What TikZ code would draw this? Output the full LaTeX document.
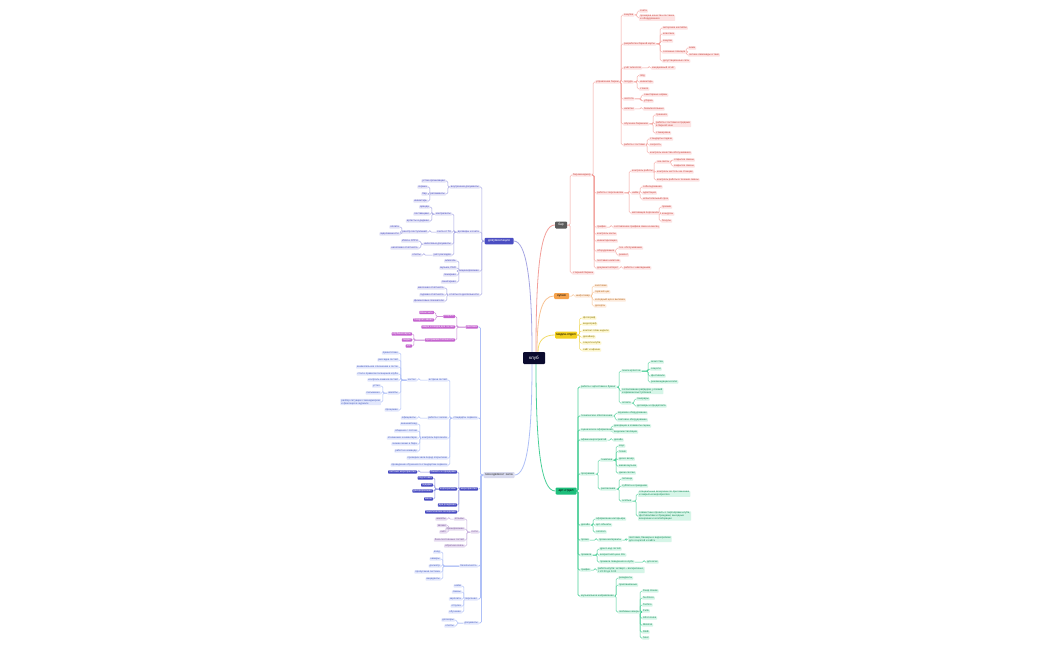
\documentclass[tikz,border=0pt]{standalone}
\usepackage{fontspec}
\setmainfont{Liberation Sans}
\usetikzlibrary{backgrounds}

\definecolor{rootfill}{HTML}{0B0B2E}
\definecolor{barmainfill}{HTML}{5B5B5B}
\definecolor{barfill}{HTML}{FDE3E3}
\definecolor{bartext}{HTML}{C9453E}
\definecolor{barln}{HTML}{F3A09B}
\definecolor{kitmainfill}{HTML}{F5A24B}
\definecolor{kitfill}{HTML}{FDEBDC}
\definecolor{kittext}{HTML}{B86A1F}
\definecolor{kitln}{HTML}{F8C292}
\definecolor{medmainfill}{HTML}{F2CF1D}
\definecolor{medfill}{HTML}{FDF6CF}
\definecolor{medtext}{HTML}{8A7500}
\definecolor{medln}{HTML}{F2DC6A}
\definecolor{artmainfill}{HTML}{1DBE7B}
\definecolor{artfill}{HTML}{D5F5E7}
\definecolor{arttext}{HTML}{138A57}
\definecolor{artln}{HTML}{49CF97}
\definecolor{docmainfill}{HTML}{4A4DC2}
\definecolor{docfill}{HTML}{E3E3F6}
\definecolor{doctext}{HTML}{4A4DC2}
\definecolor{docln}{HTML}{A6A6E3}
\definecolor{hallmainfill}{HTML}{D8DAEE}
\definecolor{hallfill}{HTML}{E2E7FC}
\definecolor{halltext}{HTML}{4A5FC0}
\definecolor{hallln}{HTML}{AFC0F7}
\definecolor{promofill}{HTML}{C565CF}
\definecolor{promoln}{HTML}{C98AD6}
\definecolor{eventln}{HTML}{8F92E0}
\definecolor{guestfill}{HTML}{E6DBF0}
\definecolor{guesttext}{HTML}{7A5A9A}
\definecolor{guestln}{HTML}{C8B0DD}

\newcommand{\leaffont}{\fontsize{2.6}{3.1}\selectfont}
\newcommand{\hubfont}{\fontsize{3.3}{4}\selectfont}

\begin{document}
\begin{tikzpicture}[x=1pt, y=-1pt,
    leaf/.style={rounded corners=0.7pt, inner xsep=1pt, inner ysep=0.4pt,
        minimum height=3.4pt, font=\leaffont, align=left},
    hub/.style={rounded corners=1pt, inner sep=0pt, font=\hubfont},
    barleaf/.style={leaf, anchor=west, fill=barfill, text=bartext},
    kitleaf/.style={leaf, anchor=west, fill=kitfill, text=kittext},
    medleaf/.style={leaf, anchor=west, fill=medfill, text=medtext},
    artleaf/.style={leaf, anchor=west, fill=artfill, text=arttext},
    docleaf/.style={leaf, anchor=east, fill=docfill, text=doctext},
    hallleaf/.style={leaf, anchor=east, fill=hallfill, text=halltext},
    promoleaf/.style={leaf, anchor=east, fill=promofill, text=white},
    eventleaf/.style={leaf, anchor=east, fill=docmainfill, text=white},
    guestleaf/.style={leaf, anchor=east, fill=guestfill, text=guesttext},
    link/.style={line width=0.5pt, rounded corners=1.4pt},
    trunk/.style={line width=0.8pt}]

\useasboundingbox (0,0) rectangle (1050,650);

% Centre
\node[hub, fill=rootfill, text=white, minimum width=22pt, minimum height=12pt,
    font=\fontsize{4.6}{5}\selectfont] (root) at (534,358) {клуб};

% Main branches
\node[hub, fill=barmainfill, text=white, minimum width=12pt, minimum height=7pt] (bar) at (561,225) {бар};
\node[hub, fill=kitmainfill, text=black, minimum width=15pt, minimum height=6pt] (kit) at (561.5,296) {кухня};
\node[hub, fill=medmainfill, text=black, minimum width=22pt, minimum height=7pt] (med) at (566,335) {медиа-отдел};
\node[hub, fill=artmainfill, text=black, minimum width=21pt, minimum height=7pt] (art) at (566,491) {арт-отдел};
\node[hub, fill=docmainfill, text=white, minimum width=29pt, minimum height=6.5pt] (doc) at (499,241) {документация};
\node[hub, fill=hallmainfill, text=black!75, minimum width=31pt, minimum height=6pt] (hall) at (499,475) {менеджмент зала};

% Bar
\node[barleaf] (b1) at (572,175) {бар-менеджер};
\node[barleaf] (b2) at (572,273) {старший бармен};
\node[barleaf] (b11) at (595,82) {управление баром};
\node[barleaf] (b12) at (596,193) {работа с персоналом};
\node[barleaf] (b13) at (596,227) {график};
\node[barleaf] (b14) at (596,234) {контроль кассы};
\node[barleaf] (b15) at (596,241) {инвентаризация};
\node[barleaf] (b16) at (596,251) {оборудование};
\node[barleaf] (b17) at (596,261) {поставки напитков};
\node[barleaf] (b18) at (596,268) {документооборот};
\node[barleaf] (b111) at (623,15) {закупки};
\node[barleaf] (b112) at (623,44) {разработка барной карты};
\node[barleaf] (b113) at (623,68) {учёт алкоголя};
\node[barleaf] (b114) at (623,82) {посуда};
\node[barleaf] (b115) at (623,99) {чистота};
\node[barleaf] (b116) at (623,109) {напитки};
\node[barleaf] (b117) at (623,124) {обучение барменов};
\node[barleaf] (b118) at (623,145) {работа с гостями};
\node[barleaf] (b1111) at (639,11) {счета};
\node[barleaf] (b1112) at (639,18) {проверка качества поставок\\и оборудования};
\node[barleaf] (b1121) at (662,28) {авторские коктейли};
\node[barleaf] (b1122) at (662,34) {классика};
\node[barleaf] (b1123) at (662,41) {закуски};
\node[barleaf] (b1124) at (662,52) {сезонные позиции};
\node[barleaf] (b1125) at (662,61) {дегустационные сеты};
\node[barleaf] (b11241) at (688,48) {зима};
\node[barleaf] (b11242) at (688,55) {летние лимонады и тики};
\node[barleaf] (b1131) at (651,68) {ежедневный отчёт};
\node[barleaf] (b1141) at (639,75.5) {лёд};
\node[barleaf] (b1142) at (639,82) {инвентарь};
\node[barleaf] (b1143) at (639,89) {стекло};
\node[barleaf] (b1151) at (643,95) {санитарные нормы};
\node[barleaf] (b1152) at (643,101) {уборка};
\node[barleaf] (b1161) at (643,109) {безалкогольные};
\node[barleaf] (b1171) at (655,115) {тренинги};
\node[barleaf] (b1172) at (655,124) {работа с гостями и продажи\\в барной зоне};
\node[barleaf] (b1173) at (655,133) {стажировка};
\node[barleaf] (b1181) at (649,139) {стандарты подачи};
\node[barleaf] (b1182) at (649,145) {скорость};
\node[barleaf] (b1183) at (649,153) {контроль качества обслуживания};
\node[barleaf] (b121) at (631,171) {контроль работы};
\node[barleaf] (b122) at (631,193) {найм};
\node[barleaf] (b123) at (631,213) {мотивация персонала};
\node[barleaf] (b1211) at (656,162) {чек-листы};
\node[barleaf] (b1212) at (656,172) {контроль чистоты на станции};
\node[barleaf] (b1213) at (656,180) {контроль работы в течение смены};
\node[barleaf] (b12111) at (673,160) {открытие смены};
\node[barleaf] (b12112) at (673,166) {закрытие смены};
\node[barleaf] (b1221) at (642,187) {собеседования};
\node[barleaf] (b1222) at (642,193) {адаптация};
\node[barleaf] (b1223) at (642,199) {испытательный срок};
\node[barleaf] (b1231) at (661,207) {премии};
\node[barleaf] (b1232) at (661,214) {конкурсы};
\node[barleaf] (b1233) at (661,221) {бонусы};
\node[barleaf] (b131) at (613,227) {составление графика смен на месяц};
\node[barleaf] (b161) at (618,248) {тех. обслуживание};
\node[barleaf] (b162) at (618,255) {ремонт};
\node[barleaf] (b181) at (623,268) {работа с накладными};

% Kitchen
\node[kitleaf] (k1) at (575,296) {шеф-повар};
\node[kitleaf] (k11) at (594,286) {заготовки};
\node[kitleaf] (k12) at (594,292) {горячий цех};
\node[kitleaf] (k13) at (594,300) {холодный цех и выпечка};
\node[kitleaf] (k14) at (594,306) {десерты};

% Media
\node[medleaf] (y1) at (582,318) {фотограф};
\node[medleaf] (y2) at (582,324) {видеограф};
\node[medleaf] (y3) at (582,331) {контент-план недели};
\node[medleaf] (y4) at (582,337) {дизайнер};
\node[medleaf] (y5) at (582,343) {соцсети клуба};
\node[medleaf] (y6) at (582,350) {сайт и афиши};

% Art
\node[artleaf] (g1) at (580,387) {работа с артистами и букинг};
\node[artleaf] (g2) at (580,416) {техническое обеспечение};
\node[artleaf] (g3) at (580,430) {сценическое оформление};
\node[artleaf] (g4) at (580,440) {афиша мероприятий};
\node[artleaf] (g5) at (580,474) {программа};
\node[artleaf] (g6) at (580,525) {дизайн};
\node[artleaf] (g7) at (580,540) {промо};
\node[artleaf] (g8) at (580,555) {правила};
\node[artleaf] (g9) at (580,570) {график};
\node[artleaf] (g10) at (580,596) {музыкальное направление};
\node[artleaf] (g11) at (621,371) {поиск артистов};
\node[artleaf] (g12) at (621,391) {согласование райдеров, условий\\и времени выступления};
\node[artleaf] (g13) at (621,403) {оплата};
\node[artleaf] (g111) at (650,362) {агентства};
\node[artleaf] (g112) at (650,369) {соцсети};
\node[artleaf] (g113) at (650,376) {фестивали};
\node[artleaf] (g114) at (650,382) {рекомендации коллег};
\node[artleaf] (g131) at (636,399) {гонорары};
\node[artleaf] (g132) at (636,406) {договоры и предоплата};
\node[artleaf] (g21) at (617,413) {звуковое оборудование};
\node[artleaf] (g22) at (617,420) {световое оборудование};
\node[artleaf] (g31) at (613,426) {декорации и элементы сцены};
\node[artleaf] (g32) at (613,432) {видеоинсталляции};
\node[artleaf] (g41) at (613,440) {дизайн};
\node[artleaf] (g51) at (600,460) {тематика};
\node[artleaf] (g52) at (600,489) {расписание};
\node[artleaf] (g511) at (618,446) {хаус};
\node[artleaf] (g512) at (618,451.5) {техно};
\node[artleaf] (g513) at (618,459) {диско вечер};
\node[artleaf] (g514) at (618,466) {живая музыка};
\node[artleaf] (g515) at (618,473) {джем-сессии};
\node[artleaf] (g521) at (621,479) {пятница};
\node[artleaf] (g522) at (621,486) {суббота и праздники};
\node[artleaf] (g523) at (621,501) {особые};
\node[artleaf] (g5231) at (638,494) {специальные вечеринки по приглашению\\и закрытые мероприятия};
\node[artleaf] (g5232) at (638,516) {совместные проекты с партнёрами клуба,\\фестивалями и брендами; выездные\\вечеринки и коллаборации};
\node[artleaf] (g61) at (595,519) {оформление интерьера};
\node[artleaf] (g62) at (595,525) {арт-объекты};
\node[artleaf] (g63) at (595,532) {логотип};
\node[artleaf] (g71) at (598,540) {промо-материалы};
\node[artleaf] (g711) at (628,539) {листовки, баннеры и видеоролики\\для соцсетей и сайта};
\node[artleaf] (g81) at (599,549) {дресс-код гостей};
\node[artleaf] (g82) at (599,555) {возрастной ценз 18+};
\node[artleaf] (g83) at (599,562) {правила поведения в клубе};
\node[artleaf] (g831) at (646,562) {для всех};
\node[artleaf] (g91) at (597,570) {работа клуба: четверг – воскресенье,\\с 22:00 до 6:00};
\node[artleaf] (g101) at (618,578) {резиденты};
\node[artleaf] (g102) at (618,585) {приглашённые};
\node[artleaf] (g103) at (618,612) {любимые жанры};
\node[artleaf] (g1031) at (642,591) {Deep House};
\node[artleaf] (g1032) at (642,598) {Nu Disco};
\node[artleaf] (g1033) at (642,605) {Techno};
\node[artleaf] (g1034) at (642,611) {Funk};
\node[artleaf] (g1035) at (642,618) {Afro House};
\node[artleaf] (g1036) at (642,625) {Minimal};
\node[artleaf] (g1037) at (642,632) {R\&B};
\node[artleaf] (g1038) at (642,638) {Soul};

% Documentation
\node[docleaf] (d1) at (480,187) {внутренние документы};
\node[docleaf] (d2) at (480,232) {договоры и счета};
\node[docleaf] (d3) at (480,271) {лицензирование};
\node[docleaf] (d4) at (480,295) {отчёты по деятельности};
\node[docleaf] (d11) at (446,181) {устав организации};
\node[docleaf] (d12) at (446,194) {регламенты};
\node[docleaf] (d121) at (428,187) {охрана};
\node[docleaf] (d122) at (428,194) {бар};
\node[docleaf] (d123) at (428,201) {инвентарь};
\node[docleaf] (d21) at (452,214) {контрагенты};
\node[docleaf] (d22) at (452,232) {счета от ТК};
\node[docleaf] (d23) at (452,244) {налоговые документы};
\node[docleaf] (d24) at (452,255) {учёт расходов};
\node[docleaf] (d211) at (430,207) {аренда};
\node[docleaf] (d212) at (430,214) {поставщики};
\node[docleaf] (d213) at (430,221) {артисты и диджеи};
\node[docleaf] (d221) at (428,232) {реестр поступлений};
\node[docleaf] (d2211) at (400,227) {оплата};
\node[docleaf] (d2212) at (400,234) {задолженности};
\node[docleaf] (d231) at (419,241) {ИНН и ОГРН};
\node[docleaf] (d232) at (419,248) {налоговая отчётность};
\node[docleaf] (d241) at (422,255) {отчёты};
\node[docleaf] (d31) at (457,261) {алкоголь};
\node[docleaf] (d32) at (457,268) {музыка, РАО};
\node[docleaf] (d33) at (457,275) {пожарная};
\node[docleaf] (d34) at (457,282) {санитарная};
\node[docleaf] (d41) at (445,288) {месячная отчётность};
\node[docleaf] (d42) at (445,295) {годовая отчётность};
\node[docleaf] (d43) at (445,301) {финансовые показатели};

% Hall management
\node[promoleaf] (m1) at (478,327) {реклама};
\node[hallleaf] (m2) at (478,418) {стандарты сервиса};
\node[eventleaf] (m3) at (478,489) {мероприятия};
\node[guestleaf] (m4) at (479,532) {гости};
\node[hallleaf] (m5) at (478,566) {безопасность};
\node[hallleaf] (m6) at (478,599) {персонал};
\node[hallleaf] (m7) at (479,623) {документы};
\node[promoleaf] (m11) at (455,316.5) {соцсети};
\node[promoleaf] (m12) at (455,327) {акции и скидки для гостей};
\node[promoleaf] (m13) at (455,340) {программа лояльности};
\node[promoleaf] (m111) at (434,312.5) {ВКонтакте};
\node[promoleaf] (m112) at (434,320) {Telegram-канал};
\node[promoleaf] (m131) at (412,334) {клубные карты};
\node[promoleaf] (m132) at (412,340) {скидки};
\node[promoleaf] (m133) at (412,346) {VIP};
\node[hallleaf] (m21) at (448,380) {встреча гостей};
\node[hallleaf] (m22) at (448,418) {работа с залом};
\node[hallleaf] (m23) at (448,438) {контроль персонала};
\node[hallleaf] (m24) at (448,458) {проверка зала перед открытием};
\node[hallleaf] (m25) at (448,465) {проведение обучения по стандартам сервиса};
\node[hallleaf] (m211) at (417,380) {хостес};
\node[hallleaf] (m2111) at (399,353) {приветствие};
\node[hallleaf] (m2112) at (399,360) {рассадка гостей};
\node[hallleaf] (m2113) at (399,367) {внимательное отношение к гостю};
\node[hallleaf] (m2114) at (399,374) {стол и правила посещения клуба};
\node[hallleaf] (m2115) at (399,380) {контроль заказов гостей};
\node[hallleaf] (m2116) at (399,393) {жалобы};
\node[hallleaf] (m2117) at (399,410) {прощание};
\node[hallleaf] (m21161) at (381,386) {устно};
\node[hallleaf] (m21162) at (381,393) {письменно};
\node[hallleaf] (m21163) at (381,402) {разбор ситуации с менеджером\\и фиксация в журнале};
\node[hallleaf] (m221) at (417,418) {официанты};
\node[hallleaf] (m231) at (418,424) {внешний вид};
\node[hallleaf] (m232) at (418,431) {общение с гостем};
\node[hallleaf] (m233) at (418,438) {отношение к инвентарю};
\node[hallleaf] (m234) at (418,444) {знание меню и бара};
\node[hallleaf] (m235) at (418,451) {работа в команде};
\node[eventleaf] (m31) at (457,472) {банкеты и праздники};
\node[eventleaf] (m32) at (457,489) {корпоративы};
\node[eventleaf] (m33) at (457,505) {дни рождения};
\node[eventleaf] (m34) at (457,512) {тематические вечеринки};
\node[eventleaf] (m311) at (417,472) {частные мероприятия};
\node[eventleaf] (m321) at (433,478) {подготовка};
\node[eventleaf] (m322) at (433,485) {подарки};
\node[eventleaf] (m323) at (433,491) {декорирование};
\node[eventleaf] (m324) at (433,499) {меню};
\node[guestleaf] (m41) at (465,519) {отзывы};
\node[guestleaf] (m42) at (465,529) {бронирование};
\node[guestleaf] (m43) at (465,540) {база постоянных гостей};
\node[guestleaf] (m44) at (465,546) {обратная связь};
\node[guestleaf] (m411) at (447,519) {жалобы};
\node[guestleaf] (m421) at (447,525.5) {звонки};
\node[guestleaf] (m422) at (447,532) {сайт};
\node[hallleaf] (m51) at (441,552) {вход};
\node[hallleaf] (m52) at (441,559) {камеры};
\node[hallleaf] (m53) at (441,566) {досмотр};
\node[hallleaf] (m54) at (441,572) {пропускная система};
\node[hallleaf] (m55) at (441,579) {инциденты};
\node[hallleaf] (m61) at (462,586) {найм};
\node[hallleaf] (m62) at (462,592) {смены};
\node[hallleaf] (m63) at (462,599) {зарплата};
\node[hallleaf] (m64) at (462,606) {отпуска};
\node[hallleaf] (m65) at (462,612) {обучение};
\node[hallleaf] (m71) at (455,620) {договоры};
\node[hallleaf] (m72) at (455,626) {отчёты};

\begin{scope}[on background layer]
    \fill[white] (0,0) rectangle (1050,650);

    % Centre to main branches
    \draw[trunk, barln] ([xshift=2pt]root.north) .. controls +(0,-85) and +(-14,0) .. (bar.west);
    \draw[trunk, kitln] ([xshift=3pt]root.north) .. controls +(0,-38) and +(-12,0) .. (kit.west);
    \draw[trunk, medln] ([xshift=4pt]root.north) .. controls +(0,-12) and +(-10,0) .. (med.west);
    \draw[trunk, artln] ([xshift=2pt]root.south) .. controls +(0,85) and +(-14,0) .. (art.west);
    \draw[trunk, docln] ([xshift=-2pt]root.north) .. controls +(0,-75) and +(12,0) .. (doc.east);
    \draw[trunk, hallln] ([xshift=-2pt]root.south) .. controls +(0,75) and +(12,0) .. (hall.east);

    % Right side: child.west back to parent.east
    \foreach \p/\c in {bar/b1, bar/b2, b1/b11, b1/b12, b1/b13, b1/b14, b1/b15, b1/b16,
        b1/b17, b1/b18, b11/b111, b11/b112, b11/b113, b11/b114, b11/b115, b11/b116,
        b11/b117, b11/b118, b111/b1111, b111/b1112, b112/b1121, b112/b1122, b112/b1123,
        b112/b1124, b112/b1125, b1124/b11241, b1124/b11242, b113/b1131, b114/b1141,
        b114/b1142, b114/b1143, b115/b1151, b115/b1152, b116/b1161, b117/b1171,
        b117/b1172, b117/b1173, b118/b1181, b118/b1182, b118/b1183, b12/b121, b12/b122,
        b12/b123, b121/b1211, b121/b1212, b121/b1213, b1211/b12111, b1211/b12112,
        b122/b1221, b122/b1222, b122/b1223, b123/b1231, b123/b1232, b123/b1233,
        b13/b131, b16/b161, b16/b162, b18/b181}
        \draw[link, barln] (\c.west) -- ++(-1.8,0) |- (\p.east);
    \foreach \p/\c in {kit/k1, k1/k11, k1/k12, k1/k13, k1/k14}
        \draw[link, kitln] (\c.west) -- ++(-1.8,0) |- (\p.east);
    \foreach \c in {y1, y2, y3, y4, y5, y6}
        \draw[link, medln] (\c.west) -- ++(-2.5,0) |- (med.east);
    \foreach \c in {g1, g2, g3, g4, g5, g6, g7, g8, g9, g10}
        \draw[link, artln, line width=0.8pt] (\c.west) -- ++(-2,0) |- (art.east);
    \foreach \p/\c in {g1/g11, g1/g12, g1/g13, g11/g111, g11/g112, g11/g113, g11/g114,
        g13/g131, g13/g132, g2/g21, g2/g22, g3/g31, g3/g32, g4/g41, g5/g51, g5/g52,
        g51/g511, g51/g512, g51/g513, g51/g514, g51/g515, g52/g521, g52/g522, g52/g523,
        g523/g5231, g523/g5232, g6/g61, g6/g62, g6/g63, g7/g71, g71/g711, g8/g81,
        g8/g82, g8/g83, g83/g831, g9/g91, g10/g101, g10/g102, g10/g103, g103/g1031,
        g103/g1032, g103/g1033, g103/g1034, g103/g1035, g103/g1036, g103/g1037, g103/g1038}
        \draw[link, artln] (\c.west) -- ++(-1.8,0) |- (\p.east);

    % Left side: child.east back to parent.west
    \foreach \p/\c in {doc/d1, doc/d2, doc/d3, doc/d4, d1/d11, d1/d12, d12/d121,
        d12/d122, d12/d123, d2/d21, d2/d22, d2/d23, d2/d24, d21/d211, d21/d212,
        d21/d213, d22/d221, d221/d2211, d221/d2212, d23/d231, d23/d232, d24/d241,
        d3/d31, d3/d32, d3/d33, d3/d34, d4/d41, d4/d42, d4/d43}
        \draw[link, docln] (\c.east) -- ++(1.8,0) |- (\p.west);
    \foreach \c in {m1, m2, m3, m4, m5, m6, m7}
        \draw[link, hallln, line width=0.8pt] (\c.east) -- ++(2.5,0) |- (hall.west);
    \foreach \p/\c in {m1/m11, m1/m12, m1/m13, m11/m111, m11/m112, m13/m131,
        m13/m132, m13/m133}
        \draw[link, promoln] (\c.east) -- ++(1.8,0) |- (\p.west);
    \foreach \p/\c in {m2/m21, m2/m22, m2/m23, m2/m24, m2/m25, m21/m211,
        m211/m2111, m211/m2112, m211/m2113, m211/m2114, m211/m2115, m211/m2116,
        m211/m2117, m2116/m21161, m2116/m21162, m2116/m21163, m22/m221, m23/m231,
        m23/m232, m23/m233, m23/m234, m23/m235, m5/m51, m5/m52, m5/m53, m5/m54,
        m5/m55, m6/m61, m6/m62, m6/m63, m6/m64, m6/m65, m7/m71, m7/m72}
        \draw[link, hallln] (\c.east) -- ++(1.8,0) |- (\p.west);
    \foreach \p/\c in {m3/m31, m3/m32, m3/m33, m3/m34, m31/m311, m32/m321,
        m32/m322, m32/m323, m32/m324}
        \draw[link, eventln] (\c.east) -- ++(1.8,0) |- (\p.west);
    \foreach \p/\c in {m4/m41, m4/m42, m4/m43, m4/m44, m41/m411, m42/m421, m42/m422}
        \draw[link, guestln] (\c.east) -- ++(1.8,0) |- (\p.west);
\end{scope}
\end{tikzpicture}
\end{document}
